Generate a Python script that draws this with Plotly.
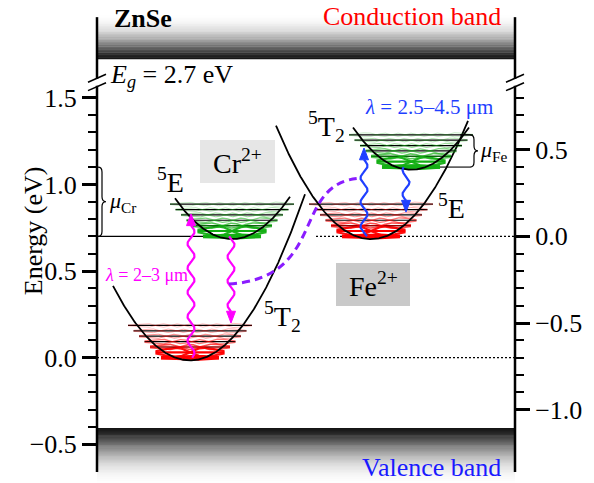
import numpy as np
from numpy.polynomial.hermite import hermval
import plotly.graph_objects as go

# ---------------------------------------------------------------- data
# energies in eV (left axis); configuration coordinate Q in arbitrary units
left_ticks = [-0.5, 0.0, 0.5, 1.0, 1.5]
left_minor = [-0.4, -0.3, -0.2, -0.1, 0.1, 0.2, 0.3, 0.4, 0.6, 0.7, 0.8, 0.9,
              1.1, 1.2, 1.3, 1.4]
right_ticks = [-1.0, -0.5, 0.0, 0.5]
right_minor = [-0.9, -0.8, -0.7, -0.6, -0.4, -0.3, -0.2, -0.1, 0.1, 0.2, 0.3,
               0.4, 0.6, 0.7, 0.8]
right_offset = 0.7          # right-axis zero = Fe2+ 5E ground level

band_gap = 2.7
cb_edge = [1.724, 1.975]    # drawn conduction band strip (edge, far side)
vb_edge = [-0.407, -0.723]  # drawn valence band strip (edge, far side)

# potential wells of Cr2+ and Fe2+
well_center = [190, 232, 371, 411]
well_ground = [0.0, 0.7, 0.7, 1.1]
well_qlo = [113, 175, 276, 353]
well_qhi = [305, 290, 468, 469]
well_kind = ["ground", "excited", "ground", "excited"]
curvature = 7.25e-5         # eV per Q^2
phonon = 0.031              # eV, vibrational quantum
n_levels = 7

# optical transitions: Q position, start energy, end energy, colour
trans_q = [191, 231, 364, 406]
trans_from = [0.0, 0.70, 0.70, 1.10]
trans_to = [0.83, 0.20, 1.21, 0.84]
trans_color = ["#ff00ff", "#ff00ff", "#1f3fff", "#1f3fff"]

# Cr -> Fe energy transfer path (start, end)
transfer_start = (229, 0.425)
transfer_end = (362, 1.037)

Q_RANGE = [97, 515]
E_RANGE = [-0.723, 2.064]
SERIF = "Liberation Serif, Times New Roman, Times, serif"

fig = go.Figure()
shapes = []
annotations = []


def line(x, y, color="black", width=1.5, dash=None, yaxis="y"):
    fig.add_trace(go.Scatter(x=x, y=y, mode="lines", hoverinfo="skip",
                             showlegend=False, yaxis=yaxis,
                             line=dict(color=color, width=width, dash=dash)))


def text(x, y, s, size=26, color="black", xanchor="center", yanchor="middle",
         xref="x", yref="y", angle=0):
    annotations.append(dict(x=x, y=y, xref=xref, yref=yref, text=s,
                            showarrow=False, xanchor=xanchor, yanchor=yanchor,
                            textangle=angle,
                            font=dict(family=SERIF, size=size, color=color)))


def px2e(py):
    """vertical pixel row -> energy on the left axis"""
    return (357.7 - py) / 173.3


# ---------------------------------------------------------------- bands
# band edges shaded from black at the gap side to white away from it
shade_t = [0.0, 0.1, 0.25, 0.45, 0.65, 0.85, 1.0]
shade_v = [18, 40, 95, 165, 218, 246, 255]


def band_shade(e_edge, e_far, n=60):
    step = (e_far - e_edge) / n
    for i in range(n):
        t = (i + 0.5) / n
        g = int(round(np.interp(t, shade_t, shade_v)))
        lo, hi = sorted([e_edge + i * step, e_edge + (i + 1) * step])
        pad = abs(step) * 0.3
        shapes.append(dict(type="rect", xref="x", yref="y",
                           x0=Q_RANGE[0], x1=Q_RANGE[1],
                           y0=lo - pad, y1=hi + pad,
                           fillcolor="rgb(%d,%d,%d)" % (g, g, g),
                           line=dict(width=0), layer="below"))


band_shade(cb_edge[0], cb_edge[1])
band_shade(vb_edge[0], vb_edge[1])

# ion labels on grey boxes
shapes.append(dict(type="rect", xref="x", yref="y", x0=200, x1=275,
                   y0=px2e(183), y1=px2e(140),
                   fillcolor="#e6e6e6", line=dict(width=0), layer="below"))
shapes.append(dict(type="rect", xref="x", yref="y", x0=336, x1=410,
                   y0=px2e(306), y1=px2e(263),
                   fillcolor="#c9c9c9", line=dict(width=0), layer="below"))

# reference levels
line([Q_RANGE[0], Q_RANGE[1]], [0, 0], width=1.3, dash="2px,2px")
line([316, Q_RANGE[1]], [right_offset, right_offset], width=1.3,
     dash="2px,2px")
line([Q_RANGE[0], 205], [0.7, 0.7], width=1.1)

# ---------------------------------------------------------------- wells
sigma = np.sqrt(0.5 * phonon / curvature)
amp = [0.010, 0.026, 0.016, 0.014, 0.013, 0.012, 0.012]
wave_w = [3.0, 2.2, 1.6, 1.3, 1.1, 1.0, 1.0]
wave_a = [1.0, 0.95, 0.7, 0.55, 0.42, 0.32, 0.25]
bar_w = [3.2, 2.2, 1.5]

for c, g, qlo, qhi, kind in zip(well_center, well_ground, well_qlo,
                                well_qhi, well_kind):
    rgb = (255, 0, 0) if kind == "ground" else (20, 175, 20)
    emin = g - phonon / 2
    for n in range(n_levels):
        e = g + n * phonon
        hw = 29 + 5.5 * n
        q = np.linspace(c - hw, c + hw, 240)
        if n >= len(bar_w):
            line([c - hw, c + hw], [e, e], color="black", width=1.2)
        else:
            line([c - hw, c + hw], [e, e],
                 color="rgb(%d,%d,%d)" % rgb if n < 2 else
                 "rgb(%d,%d,%d)" % tuple(int(v * 0.6) for v in rgb),
                 width=bar_w[n])
        xi = (q - c) / sigma
        coef = np.zeros(n + 1)
        coef[n] = 1
        psi = hermval(xi, coef) * np.exp(-xi ** 2 / 2)
        psi = psi / np.abs(psi).max()
        col = "rgba(%d,%d,%d,%.2f)" % (*rgb, wave_a[n])
        line(q, e + amp[n] * psi, color=col, width=wave_w[n])
        line(q, e - amp[n] * psi, color=col, width=wave_w[n])
    q = np.linspace(qlo, qhi, 300)
    line(q, emin + curvature * (q - c) ** 2, color="black", width=1.8)

# ---------------------------------------------------------------- transitions
head_len = 0.068
head_hw = 4.5
wave_amp = 3.5
wave_period = 0.14
for q0, e0, e1, col in zip(trans_q, trans_from, trans_to, trans_color):
    s = 1 if e1 > e0 else -1
    base = e1 - s * head_len
    e = np.linspace(e0, base, 300)
    x = q0 + wave_amp * np.sin(2 * np.pi * (base - e) / wave_period)
    line(x, e, color=col, width=2.2)
    shapes.append(dict(type="path", xref="x", yref="y",
                       path="M %f,%f L %f,%f L %f,%f Z" % (
                           q0, e1, q0 - head_hw, base, q0 + head_hw, base),
                       fillcolor=col, line=dict(color=col, width=1)))

# energy transfer Cr -> Fe
x0, y0 = transfer_start
x3, y3 = transfer_end
shapes.append(dict(type="path", xref="x", yref="y",
                   path="M %f,%f C %f,%f %f,%f %f,%f" % (
                       x0, y0, x0 + 100, y0 + 0.035, x3 - 72, y3 - 0.02,
                       x3, y3),
                   line=dict(color="#8a1cff", width=3, dash="8px,5px")))

# ---------------------------------------------------------------- braces


def brace(x0, yb, yt, w=8, d=0.028):
    xm, x1, ym = x0 + w / 2, x0 + w, (yt + yb) / 2
    return ("M %f,%f Q %f,%f %f,%f L %f,%f Q %f,%f %f,%f Q %f,%f %f,%f "
            "L %f,%f Q %f,%f %f,%f" % (
                x0, yt, xm, yt, xm, yt - d, xm, ym + d, xm, ym, x1, ym,
                xm, ym, xm, ym - d, xm, yb + d, xm, yb, x0, yb))


shapes.append(dict(type="path", xref="x", yref="y",
                   path=brace(98, 0.7, 1.1), line=dict(color="black", width=1.2)))
fe_top = well_ground[3] + (n_levels - 1) * phonon
line([440, 470], [well_ground[3], well_ground[3]], width=1.1)
line([470 - 10, 470], [fe_top, fe_top], width=1.1)
shapes.append(dict(type="path", xref="x", yref="y",
                   path=brace(470, well_ground[3], fe_top),
                   line=dict(color="black", width=1.2)))

# ---------------------------------------------------------------- axes
axis_top, axis_bot = 1.965, -0.660
brk = [1.613, 1.564]
for xp in (0, 1):
    for ya, yb in ((axis_top, brk[0] - 0.005), (brk[1] + 0.005, axis_bot)):
        shapes.append(dict(type="line", xref="paper", yref="y", x0=xp, x1=xp,
                           y0=ya, y1=yb, line=dict(color="black", width=2.5)))
    for yb_ in brk:
        shapes.append(dict(type="line", xref="paper", yref="y",
                           x0=xp - 9 / 418, x1=xp + 9 / 418,
                           y0=yb_ - 0.023, y1=yb_ + 0.023,
                           line=dict(color="black", width=1.6)))

# ---------------------------------------------------------------- labels
text(112, 1.960, "<b>ZnSe</b>", xanchor="left")
text(503, 1.966, "Conduction band", color="#ff0000", xanchor="right")
text(108, 1.628, "<i>E</i><sub><i>g</i></sub> = %.1f eV" % band_gap,
     xanchor="left")
text(503, -0.631, "Valence band", color="#1a1aff", xanchor="right")
text(237.5, px2e(161), "Cr<sup>2+</sup>", size=28)
text(373, px2e(284), "Fe<sup>2+</sup>", size=28)
text(170, px2e(180), "<sup>5</sup>E", size=28)
text(282, px2e(316), "<sup>5</sup>T<sub>2</sub>", size=28)
text(326, px2e(127), "<sup>5</sup>T<sub>2</sub>", size=28)
text(451, px2e(206), "<sup>5</sup>E", size=28)
text(146, px2e(275), "<i>λ</i> = 2–3 μm", size=18, color="#ff00ff")
text(429, px2e(107), "<i>λ</i> = 2.5–4.5 μm", size=21, color="#1f3fff")
text(107, 0.9, "<i>μ</i><sub>Cr</sub>", size=22, xanchor="left")
text(478, 1.19, "<i>μ</i><sub>Fe</sub>", size=22, xanchor="left")
text(-0.153, 0.73, "Energy (eV)", xref="paper", angle=-90)

tickfont = dict(family=SERIF, size=26, color="black")
fig.update_layout(
    width=594, height=483,
    margin=dict(l=97, r=79, t=0, b=0),
    paper_bgcolor="white", plot_bgcolor="white",
    font=dict(family=SERIF),
    shapes=shapes, annotations=annotations,
    xaxis=dict(range=Q_RANGE, visible=False, fixedrange=True),
    yaxis=dict(range=E_RANGE, showgrid=False, zeroline=False, showline=False,
               tickmode="array", tickvals=left_ticks, tickformat=".1f",
               ticks="outside", ticklen=14, tickwidth=3, tickcolor="black",
               tickfont=tickfont, automargin=False,
               minor=dict(tickmode="array", tickvals=left_minor,
                          ticks="outside", ticklen=8, tickwidth=2,
                          tickcolor="black", showgrid=False)),
    yaxis2=dict(range=[E_RANGE[0] - right_offset, E_RANGE[1] - right_offset],
                overlaying="y", side="right", showgrid=False, zeroline=False,
                showline=False, tickmode="array", tickvals=right_ticks,
                tickformat=".1f", ticks="outside", ticklen=14, tickwidth=3,
                tickcolor="black", tickfont=tickfont, automargin=False,
                minor=dict(tickmode="array", tickvals=right_minor,
                           ticks="outside", ticklen=8, tickwidth=2,
                           tickcolor="black", showgrid=False)),
)
# invisible trace so the right axis is drawn
fig.add_trace(go.Scatter(x=[Q_RANGE[0]], y=[0], yaxis="y2", mode="markers",
                         marker=dict(opacity=0), hoverinfo="skip",
                         showlegend=False))

fig.write_html("out.html")
